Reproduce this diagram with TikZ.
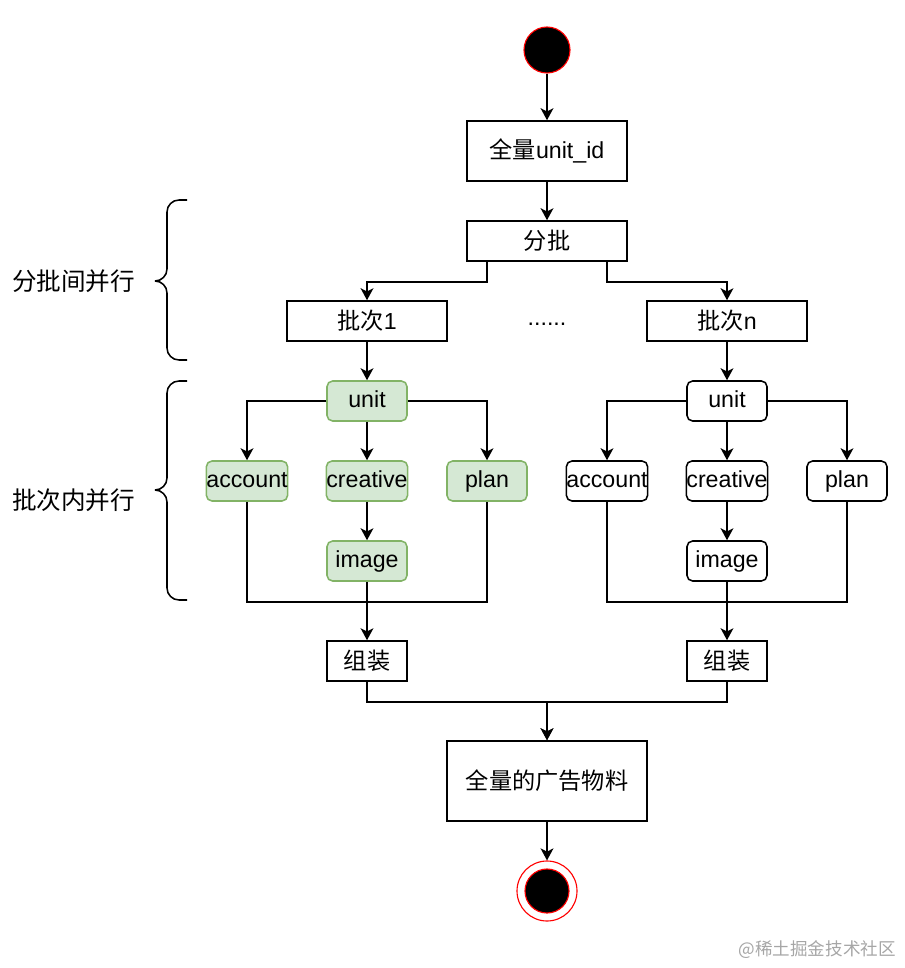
\documentclass[tikz,border=0pt]{standalone}
\usepackage{fontspec}
\setmainfont{Liberation Sans}
\newfontfamily\cjk{Noto Sans CJK SC}
\usetikzlibrary{positioning,calc,arrows.meta}
\definecolor{leaffill}{HTML}{D5E8D4}
\definecolor{leafline}{HTML}{82B366}
\begin{document}
\begin{tikzpicture}[
  box/.style={rectangle, draw, line width=1.1pt, minimum width=4cm, minimum height=1cm, inner sep=0pt, fill=white},
  small/.style={box, minimum width=2cm},
  leaf/.style={small, rounded corners=4pt, text height=2.3ex, text depth=0.6ex},
  green/.style={fill=leaffill, draw=leafline},
  arr/.style={-{Stealth[length=3mm,width=3.2mm,inset=0.8mm]}, line width=1.1pt},
  line/.style={line width=1.1pt},
  curly/.style={line width=1.1pt, rounded corners=0.3cm},
  node distance=2cm,
  font=\fontsize{16.5}{19}\selectfont
]
\useasboundingbox (0,0) rectangle (22.6,-24.2);
\node[circle, draw=red, fill=black, minimum size=1.15cm, line width=0.8pt, inner sep=0pt] (start) at (13.675,-1.25) {};
\node[box, minimum height=1.5cm, below of=start, node distance=2.525cm] (all) {{\cjk 全量}unit\_id};
\node[box, below of=all, node distance=2.25cm] (batch) {\cjk 分批};
\node[box, below of=batch, xshift=-4.5cm] (b1) {{\cjk 批次}1};
\node[box, below of=batch, xshift=4.5cm] (bn) {{\cjk 批次}n};
\node[below of=batch, yshift=-0.08cm] (dots) {......};

% batch 1
\node[leaf, green, below of=b1] (unit1) {unit};
\node[leaf, green, below of=unit1] (cre1) {creative};
\node[leaf, green, left of=cre1, node distance=3cm] (acc1) {account};
\node[leaf, green, right of=cre1, node distance=3cm] (plan1) {plan};
\node[leaf, green, below of=cre1] (img1) {image};
\node[small, below of=img1, node distance=2.5cm] (asm1) {\cjk 组装};

% batch n
\node[leaf, below of=bn] (unitn) {unit};
\node[leaf, below of=unitn] (cren) {creative};
\node[leaf, left of=cren, node distance=3cm] (accn) {account};
\node[leaf, right of=cren, node distance=3cm] (plann) {plan};
\node[leaf, below of=cren] (imgn) {image};
\node[small, below of=imgn, node distance=2.5cm] (asmn) {\cjk 组装};

\node[box, minimum width=5cm, minimum height=2cm, below of=batch, node distance=13.5cm] (final) {\cjk 全量的广告物料};
\node[circle, draw=red, fill=white, minimum size=1.5cm, line width=0.8pt, inner sep=0pt, below of=final, node distance=2.75cm] (stop) {};
\node[circle, draw=red, fill=black, minimum size=1.1cm, line width=0.8pt, inner sep=0pt] (stopdot) at (stop) {};

% main path
\draw[arr] (start) -- (all);
\draw[arr] (all) -- (batch);
\draw[arr] ([xshift=-1.5cm]batch.south) -- ++(0,-0.5) -| (b1);
\draw[arr] ([xshift=1.5cm]batch.south) -- ++(0,-0.5) -| (bn);

% inside batch 1
\draw[arr] (b1) -- (unit1);
\draw[arr] (unit1.west) -| (acc1);
\draw[arr] (unit1) -- (cre1);
\draw[arr] (unit1.east) -| (plan1);
\draw[arr] (cre1) -- (img1);
\draw[line] (acc1.south) -- ++(0,-2.5) -| (plan1.south);
\draw[arr] (img1) -- (asm1);

% inside batch n
\draw[arr] (bn) -- (unitn);
\draw[arr] (unitn.west) -| (accn);
\draw[arr] (unitn) -- (cren);
\draw[arr] (unitn.east) -| (plann);
\draw[arr] (cren) -- (imgn);
\draw[line] (accn.south) -- ++(0,-2.5) -| (plann.south);
\draw[arr] (imgn) -- (asmn);

% merge
\draw[arr] (asm1.south) -- ++(0,-0.5) -| (final);
\draw[arr] (asmn.south) -- ++(0,-0.5) -| (final);
\draw[arr] (final) -- (stop);

% braces
\draw[curly] (4.675,-5) -- (4.175,-5) -- (4.175,-7.025) -- (3.875,-7.025);
\draw[curly] (4.675,-9) -- (4.175,-9) -- (4.175,-7.025) -- (3.875,-7.025);
\draw[curly] (4.675,-9.525) -- (4.175,-9.525) -- (4.175,-12.25) -- (3.875,-12.25);
\draw[curly] (4.675,-15) -- (4.175,-15) -- (4.175,-12.25) -- (3.875,-12.25);
\node[anchor=east, font=\fontsize{17.5}{21}\selectfont] (between) at (3.5,-7.025) {\cjk 分批间并行};
\node[anchor=east, font=\fontsize{17.5}{21}\selectfont] (within) at (3.5,-12.5) {\cjk 批次内并行};

\node[text=black!35, font=\fontsize{12.5}{15}\selectfont] (mark) at (20.43,-23.75) {\cjk @稀土掘金技术社区};
\end{tikzpicture}
\end{document}
